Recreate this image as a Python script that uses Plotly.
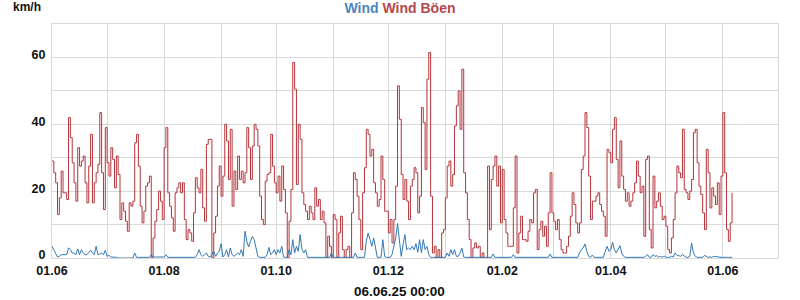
import pandas as pd
import plotly.graph_objects as go

start_date = "2024-06-01"

gust_kmh = [
    29, 25.5, 22.5, 13, 18, 26, 19.5, 19.5, 17.5, 42,
    36, 28.5, 22.5, 17, 33, 27.5, 29, 30.5, 22.5, 16.5,
    27.5, 37, 16.5, 22.5, 25.5, 28, 43.5, 25.5, 14.5, 39,
    28.5, 24.5, 33, 29.5, 21, 30.5, 25, 11.5, 16.5, 14,
    11, 8, 16.5, 15.5, 17, 34.5, 37, 27.5, 15.5, 10.5,
    14, 21.5, 22.5, 24.5, 0, 6, 11, 14.5, 20, 17,
    11.5, 33, 39, 19.5, 15.5,
    12, 8, 19.5, 21, 22.5, 19.5, 22.5, 11.5, 5.5, 8.5,
    7.5, 5, 13.5, 24, 21, 19.5, 26.5, 15, 11, 34,
    35.5, 35.5, 0, 7.5, 12.5, 21.5, 27.5, 18.5, 24.5, 40,
    35, 23.5, 38.5, 15.5, 26, 20.5, 30.5, 23.5, 26, 22.5,
    25.5, 39, 33, 23.5, 33.5, 40, 38.5, 33.5, 18.5, 11.5,
    10, 23, 25, 25.5, 37, 27.5, 22.5, 19.5, 24.5, 17,
    27.5, 20.5, 13.5, 0, 11,
    20.5, 58.5, 50.5, 22, 40, 35.5, 19.5, 16, 14, 11.5,
    15.5, 13.5, 11.5, 21, 15.5, 17.5, 11.5, 14, 10.5, 0,
    6.5, 3.5, 0, 13, 11.5, 0, 7.5, 12.5, 2.5, 0,
    2.5, 3.5, 0, 13.5, 25.5, 23.5, 18.5, 11.5, 2.5, 19.5,
    27, 38.5, 37, 30.5, 32.5, 22.5, 19.5, 15.5, 17.5, 30.5,
    23.5, 14, 14, 7.5, 11.5, 4.5, 11.5, 21.5, 51.5, 41.5,
    25, 17.5, 23.5, 17, 11.5,
    21.5, 23.5, 27, 25.5, 13.5, 18.5, 45, 40.5, 26.5, 53.5,
    61.5, 18.5, 1.5, 3.5, 0, 2.5, 0, 7.5, 8.5, 18,
    27.5, 29, 21.5, 25, 39.5, 45.5, 50, 38.5, 56.5, 25.5,
    19.5, 11.5, 5.5, 0, 3, 4.5, 3, 3.5, 0, 1.5,
    0, 0, 27.5, 8.5, 23.5, 27.5, 30.5, 21.5, 27.5, 10.5,
    26.5, 11.5, 7.5, 3.5, 3.5, 3.5, 15, 30.5, 1.5, 7.5,
    12.5, 5.5, 5.5, 5, 8,
    11.5, 10.5, 19.5, 20.5, 2.5, 8.5, 11, 6.5, 9.5, 3.5,
    13.5, 25.5, 13.5, 11, 8.5, 11.5, 5.5, 2.5, 1.5, 1.5,
    3.5, 6.5, 12.5, 19.5, 16, 10.5, 7.5, 10.5, 26.5, 30.5,
    43.5, 39, 24.5, 11.5, 17, 17, 18.5, 19.5, 16, 14,
    12.5, 6.5, 32.5, 31.5, 28.5, 38.5, 42, 29.5, 21, 35,
    24.5, 20.5, 17, 19.5, 15.5, 17, 19.5, 22.5, 29, 24.5,
    19.5, 21.5, 6.5, 29.5, 30.5, 8.5,
    3, 24.5, 15, 17, 19.5, 15.5, 11.5, 12.5, 9.5, 2.5,
    1.5, 6, 11.5, 19.5, 27.5, 25.5, 24, 38.5, 20.5, 19.5,
    17.5, 20, 23.5, 37.5, 38.5, 28.5, 21.5, 19, 13.5, 8.5,
    32.5, 25.5, 15, 21, 18.5, 16, 22.5, 13, 24.5, 43.5,
    25.5, 8.5, 5, 10.5, 19.5,
]

wind_kmh = [
    3.5, 2.5, 1.5, 0.3, 0.5, 1, 1, 1, 1, 3,
    2.5, 1.5, 1.5, 1, 2.7, 1, 2.5, 1.5, 1, 1,
    1.5, 2.3, 1.5, 1, 3.5, 1, 1.2, 1.5, 1, 2.3,
    0.5, 0.8, 0.3, 0.3, 0.2, 0.2, 0, 0, 0, 0,
    0, 0, 0, 0, 0, 1.5, 0.2, 0.2, 0.2, 0.2,
    0.2, 0.2, 0.2, 0.2, 1, 0.3, 0.3, 0.3, 0.3, 0.3,
    0.3, 0.3, 1, 0.2, 0.2,
    0.2, 0.2, 0.2, 0.2, 0.2, 0.2, 0.2, 0.2, 0.2, 0.2,
    0.2, 0.2, 0.2, 0.2,
    1, 2.5, 1, 0.5, 1, 1.5, 0.5, 0.3, 1, 2,
    0.5, 1.5, 2, 4.3, 0.3, 1, 2.5, 0.3, 3, 1,
    0.5, 1, 1.5, 1, 2.5, 0.5, 8, 5, 3.3, 5,
    6.5, 5.5, 3, 0.5, 0.2, 0.2, 0.2, 0.2, 1, 3.2,
    1, 1.5, 2.5, 1, 2.5, 1.5, 3.5, 0.3, 0.2, 0.2, 2.5,
    1, 5.5, 1.5, 3.5, 2, 7, 2.5, 1.5, 2.5,
    0.2, 0.2, 0.2, 0.2, 0.2, 0.2, 0.2, 0.2, 0.2, 0.2, 0.2, 0.2, 0.2,
    1.5,
    0.2, 0.2, 0.2, 0.2, 0.2, 0.2, 0.2, 0.2, 0.2, 0.2, 0.2, 0.2,
    1.5,
    0.2, 0.2, 0.2, 0.2, 0.2,
    5, 7.5, 5.5, 3.5, 6, 2.5, 0.2, 0.2, 0.2, 5.5,
    0.5, 0.2, 0.2, 0.2, 1, 3.5, 6, 10.3, 5.5, 0.5,
    4, 7, 2.5, 3,
    2.5, 3.5, 2.5, 4.3, 1.7, 5.5, 1.5, 5.5, 2.5, 3.5, 1, 0.2,
    0.2, 0.2, 0.2, 0.2, 0.2, 0.2, 0.2, 0.2,
    1.5, 0.5, 2.5, 1, 2.5, 0.5, 0.5, 1.5, 3, 0.3,
    0.2, 0.2, 0.2, 0.2, 0.2, 0.2, 0.2, 0.2, 0.2, 0.2, 0.2, 0.2, 0.2, 0.2, 0.2,
    1.2,
    0.2, 0.2, 0.2, 0.2, 0.2, 0.2, 0.2, 0.2, 0.2, 0.2,
    1,
    0.2, 0.2, 0.2, 0.2, 0.2, 0.2, 0.2, 0.2,
    0.2, 0.2, 0.2, 0.2, 0.2, 0.2, 0.2, 0.2, 0.2, 0.2, 0.2,
    1.2,
    0.2, 0.2, 0.2, 0.2, 0.2, 0.2, 0.2, 0.2, 0.2, 0.2, 0.2, 0.2, 0.2, 0.2, 0.2,
    1.5, 2.5, 3, 4.2, 2, 0.5, 0.2, 0.9,
    0.2, 0.2, 0.2, 0.2, 0.2, 0.2,
    2, 3.5, 2, 2.5, 4.7, 2.5, 1.5, 2.5, 3.7, 1.5, 0.5,
    0.2, 0.2, 0.2, 0.2, 0.2, 0.2, 0.2, 0.2, 0.2, 0.2, 0.2,
    0.5, 1, 0.2,
    0.2, 1, 0.5, 0.7, 0.3, 0.5, 0.2, 0.6,
    0.2, 0.2, 0.2,
    0.5, 0.3, 1.5, 0.8, 0.7, 0.5, 1, 0.5, 0.2, 0.2,
    0.5, 4.5, 1.5, 0.5, 0.2, 0.2, 0.3, 0.2, 0.8, 0.6,
    0.2, 0.3, 0.2, 0.5, 0.4, 0.2, 0.3, 0.2, 0.2, 0.3,
    0.2, 0.2, 0.2, 0.2,
]

n = min(len(gust_kmh), len(wind_kmh))
dates = pd.date_range(start_date, periods=n, freq="D")

FONT = "Liberation Sans, Arial, Helvetica, sans-serif"
GRID = "#d9d9d9"
RED = "#b5343a"
BLUE = "#3278b8"
TICK_SIZE = 12.5

fig = go.Figure()
fig.add_trace(go.Scatter(x=dates, y=gust_kmh[:n], mode="lines", name="Wind Böen",
                         line=dict(color=RED, width=1, shape="hv")))
fig.add_trace(go.Scatter(x=dates, y=wind_kmh[:n], mode="lines", name="Wind",
                         line=dict(color=BLUE, width=1)))

fig.update_layout(
    width=800, height=300,
    margin=dict(l=52, r=22, t=24, b=42),
    paper_bgcolor="white", plot_bgcolor="white",
    showlegend=False,
    font=dict(family=FONT, size=13, color="#111111"),
    title=dict(
        text="<span style='color:#4a86c0'>Wind</span> <span style='color:#b5474b'>Wind Böen</span>",
        x=0.5, xref="container", xanchor="center",
        y=1 - 8 / 300, yref="container", yanchor="middle",
        font=dict(family=FONT, size=14, weight="bold"),
    ),
)

fig.update_xaxes(
    type="date",
    range=["2024-06-01", "2025-07-01"],
    tick0="2024-06-01", dtick="M2", tickformat="%d.%m",
    ticks="", showgrid=True, gridcolor=GRID, gridwidth=1,
    minor=dict(dtick="M1", tick0="2024-06-01", showgrid=True, gridcolor=GRID, gridwidth=1),
    showline=True, linecolor=GRID, linewidth=1, mirror=True,
    tickfont=dict(family=FONT, size=TICK_SIZE, weight="bold", color="#111111"),
    ticklabelstandoff=1,
    zeroline=False,
)
fig.update_yaxes(
    range=[0, 70], dtick=20, tick0=0,
    ticks="outside", ticklen=3, tickcolor="rgba(0,0,0,0)",
    showgrid=True, gridcolor=GRID, gridwidth=1,
    minor=dict(dtick=10, showgrid=True, gridcolor=GRID, gridwidth=1),
    showline=True, linecolor=GRID, linewidth=1, mirror=True,
    tickfont=dict(family=FONT, size=TICK_SIZE, weight="bold", color="#111111"),
    ticklabelshift=-3,
    zeroline=False,
)

plot_h = 234.0
plot_w = 726.0
fig.add_annotation(
    text="km/h", xref="paper", yref="paper",
    x=(11 - 52) / plot_w, y=(258 - 7) / plot_h,
    xanchor="left", yanchor="middle", showarrow=False,
    font=dict(family=FONT, size=12, weight="bold", color="#111111"),
)
fig.add_annotation(
    text="06.06.25 00:00", xref="paper", yref="paper",
    x=(399 - 52) / plot_w, y=(258 - 291.5) / plot_h,
    xanchor="center", yanchor="middle", showarrow=False,
    font=dict(family=FONT, size=13.5, weight="bold", color="#111111"),
)

fig.write_html("out.html")
